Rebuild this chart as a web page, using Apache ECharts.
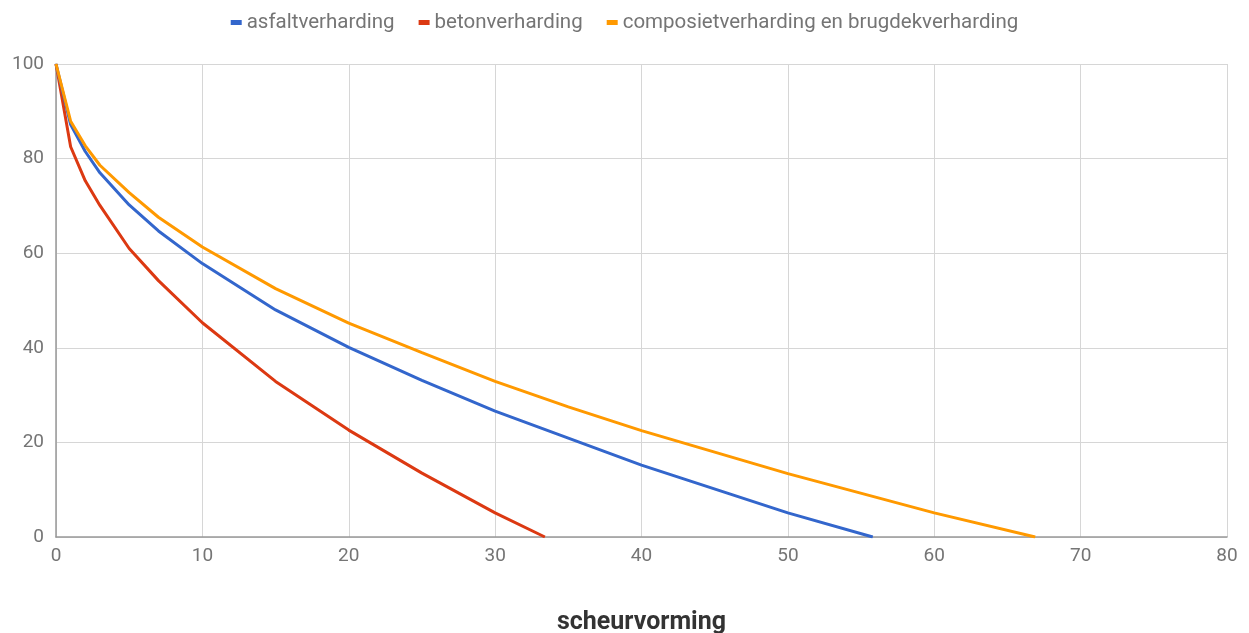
<!DOCTYPE html>
<html><head><meta charset="utf-8">
<script src="https://cdn.jsdelivr.net/npm/echarts@6/dist/echarts.min.js"></script>
<style>html,body{margin:0;padding:0;background:#fff}#c{width:1249px;height:633px}</style>
</head><body><div id="c"></div>
<script>
const seriesNames = ['asfaltverharding', 'betonverharding', 'composietverharding en brugdekverharding'];
const asfaltX = [0, 1, 2, 3, 5, 7, 10, 15, 20, 25, 30, 35, 40, 50, 55.8];
const asfaltY = [100, 87.2, 81.5, 77, 70.2, 64.7, 57.8, 48, 40.1, 33.1, 26.6, 20.9, 15.2, 5.1, 0];
const betonX = [0, 1, 2, 3, 5, 7, 10, 15, 20, 25, 30, 33.4];
const betonY = [100, 82.5, 75.3, 70.1, 61, 54.2, 45.3, 32.9, 22.6, 13.5, 5.1, 0];
const compX = [0, 1, 2, 3, 5, 7, 10, 15, 20, 25, 30, 35, 40, 50, 60, 66.9];
const compY = [100, 87.9, 82.7, 78.6, 72.8, 67.6, 61.3, 52.5, 45.2, 39, 32.9, 27.5, 22.5, 13.4, 5.1, 0];
const xTicks = {min: 0, max: 80, interval: 10};
const yTicks = {min: 0, max: 100, interval: 20};
const colors = ['#3366cc', '#dc3912', '#ff9900'];

function pairs(xs, ys){ return xs.map((x,i)=>[x, ys[i]]); }

const chart = echarts.init(document.getElementById('c'));
const lbl = {color:'#757575', fontSize:19, fontFamily:'Roboto'};
chart.setOption({
  animation:false,
  color: colors,
  legend:{
    top:7, left:'center', icon:'rect', itemWidth:11, itemHeight:5, itemGap:24,
    textStyle:{color:'#757575', fontSize:20.5, fontFamily:'Roboto'},
    data: seriesNames
  },
  grid:{left:56, right:22, top:64, bottom:96, outerBoundsMode:'none', containLabel:false},
  xAxis:{
    type:'value', min:xTicks.min, max:xTicks.max, interval:xTicks.interval,
    name:'scheurvorming', nameLocation:'middle', nameGap:73,
    nameTextStyle:{color:'#333', fontSize:25, fontWeight:'bold', fontFamily:'Roboto'},
    axisLine:{show:true, onZero:false, lineStyle:{color:'#999', width:1.5}},
    axisTick:{show:false},
    axisLabel:Object.assign({margin:10}, lbl),
    splitLine:{show:true, lineStyle:{color:'#d6d6d6'}}
  },
  yAxis:{
    type:'value', min:yTicks.min, max:yTicks.max, interval:yTicks.interval,
    axisLine:{show:true, lineStyle:{color:'#999', width:1.5}},
    axisTick:{show:false},
    axisLabel:Object.assign({margin:12}, lbl),
    splitLine:{show:true, lineStyle:{color:'#d6d6d6'}}
  },
  series:[
    {name:seriesNames[0], type:'line', data:pairs(asfaltX, asfaltY), showSymbol:false, lineStyle:{width:3}, z:3},
    {name:seriesNames[1], type:'line', data:pairs(betonX, betonY), showSymbol:false, lineStyle:{width:3}, z:2},
    {name:seriesNames[2], type:'line', data:pairs(compX, compY), showSymbol:false, lineStyle:{width:3}, z:4}
  ]
});
</script></body></html>
